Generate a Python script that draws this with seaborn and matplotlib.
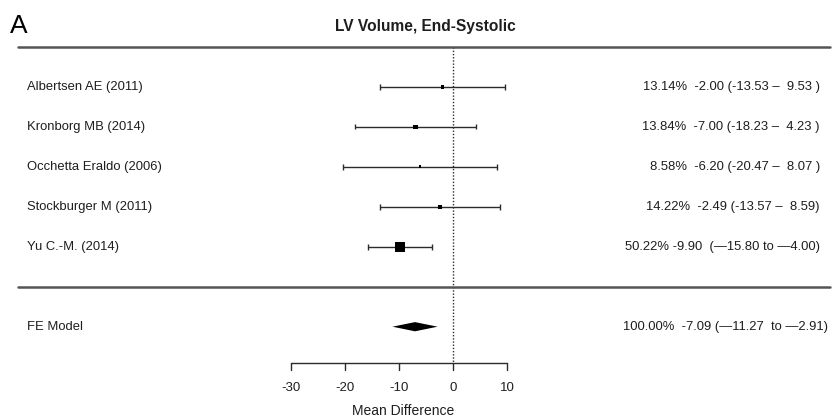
import numpy as np
import pandas as pd
import matplotlib
matplotlib.use("Agg")
import matplotlib.pyplot as plt
import seaborn as sns

# Study-level results
studies = ["Albertsen AE (2011)", "Kronborg MB (2014)", "Occhetta Eraldo (2006)",
           "Stockburger M (2011)", "Yu C.-M. (2014)"]
estimates = [-2.00, -7.00, -6.20, -2.49, -9.90]
ci_low = [-13.53, -18.23, -20.47, -13.57, -15.80]
ci_high = [9.53, 4.23, 8.07, 8.59, -4.00]
weights = [13.14, 13.84, 8.58, 14.22, 50.22]
study_labels = ["13.14%  -2.00 (-13.53 \u2013  9.53 )",
                "13.84%  -7.00 (-18.23 \u2013  4.23 )",
                "8.58%  -6.20 (-20.47 \u2013  8.07 )",
                "14.22%  -2.49 (-13.57 \u2013  8.59)",
                "50.22% -9.90  (\u201415.80 to \u20144.00)"]

# Pooled fixed-effect model
pooled_name = "FE Model"
pooled_est = -7.09
pooled_low = -11.27
pooled_high = -2.91
pooled_label = "100.00%  -7.09 (\u201411.27  to \u20142.91)"

ticks = [-30, -20, -10, 0, 10]
title = "LV Volume, End-Systolic"
panel = "A"
xlabel = "Mean Difference"

sns.set_theme(style="white")
plt.rcParams["font.family"] = ["Liberation Sans", "DejaVu Sans"]

ink = "#2b2b2b"
txt = "#1e1e1e"
fs = 9.4
rows = np.arange(len(studies), 0, -1)  # 5..1 from top to bottom
df = pd.DataFrame({"study": studies, "est": estimates, "lo": ci_low,
                   "hi": ci_high, "w": weights, "row": rows})

fig = plt.figure(figsize=(8.33, 4.19), dpi=100)
ax = fig.add_axes([0, 0, 1, 1])
ax.set_xlim(-83.94, 70.31)
ax.set_ylim(-3.3075, 7.1675)
ax.axis("off")

# Confidence intervals with end caps
ax.hlines(df["row"], df["lo"], df["hi"], color=ink, lw=1.0)
ax.vlines(df["lo"], df["row"] - 0.07, df["row"] + 0.07, color=ink, lw=1.0)
ax.vlines(df["hi"], df["row"] - 0.07, df["row"] + 0.07, color=ink, lw=1.0)

# Point estimates sized by weight
sns.scatterplot(data=df, x="est", y="row", size="w", sizes=(3, 48),
                size_norm=(min(weights), max(weights)), marker="s",
                color="black", edgecolor="none", legend=False, ax=ax, zorder=3)

# Pooled diamond
dh = 0.115
ax.fill([pooled_low, pooled_est, pooled_high, pooled_est],
        [-1, -1 + dh, -1, -1 - dh], color="black", lw=0)

# Reference line at zero
axis_row = -1.915
ax.plot([0, 0], [6, axis_row], color=ink, lw=1.0, ls=(0, (1, 1.3)))

# Separators
ax.axhline(6, xmin=0.0216, xmax=0.9964, color="#555555", lw=1.8)
ax.axhline(0, xmin=0.0216, xmax=0.9964, color="#555555", lw=1.8)

# Bottom axis
ax.plot([ticks[0], ticks[-1]], [axis_row, axis_row], color=ink, lw=1.0)
for t in ticks:
    ax.plot([t, t], [axis_row, axis_row - 0.17], color=ink, lw=1.0)
    ax.text(t, axis_row - 0.62, f"{t}", ha="center", va="center",
            fontsize=9.5, color=txt)
ax.text(403 / 833, axis_row - 1.19, xlabel, transform=ax.get_yaxis_transform(),
        ha="center", va="center", fontsize=10, color=txt)

# Row labels and annotations
trans = ax.get_yaxis_transform()
for name, r, lab in zip(studies, rows, study_labels):
    ax.text(27 / 833, r, name, transform=trans, ha="left", va="center",
            fontsize=fs, color=txt)
    ax.text(820 / 833, r, lab, transform=trans, ha="right", va="center",
            fontsize=fs, color=txt)
ax.text(27 / 833, -1, pooled_name, transform=trans, ha="left", va="center",
        fontsize=fs, color=txt)
ax.text(828 / 833, -1, pooled_label, transform=trans, ha="right", va="center",
        fontsize=fs, color=txt)

# Title and panel letter
ax.text(425 / 833, 6.5, title, transform=trans, ha="center", va="center",
        fontsize=11.2, fontweight="bold", color=txt)
ax.text(10 / 833, 6.52, panel, transform=trans, ha="left", va="center",
        fontsize=19, color="black")

fig.savefig("out.png", dpi=100, facecolor="white")
